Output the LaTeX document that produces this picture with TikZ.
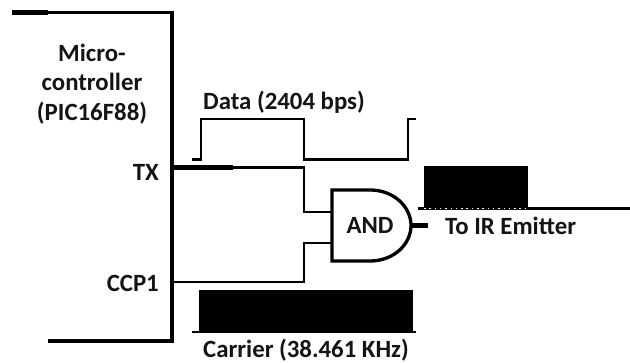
\documentclass[tikz,border=0pt]{standalone}
\usepackage{fontspec}
\setmainfont{Carlito}
\usepackage{xcolor}
\definecolor{labelInk}{HTML}{141414}
\usepackage{tikz}
\usetikzlibrary{positioning}

\begin{document}
\begin{tikzpicture}[x=1pt,y=-1pt,line join=miter,
  every node/.style={font=\fontsize{24.8}{29.5}\selectfont\bfseries,text=labelInk,inner sep=0pt},
  wire/.style={draw=black,line width=2.8pt},
  outline/.style={draw=black,line width=3.3pt},
  heavy/.style={draw=black,line width=4.4pt},
  burst/.style={fill=black,draw=none}]
  \useasboundingbox (0,0) rectangle (630,363);
  % micro-controller outline
  \coordinate (boxTL) at (12,12.5);
  \coordinate (boxTM) at (48,12.5);
  \coordinate (boxTR) at (172,12.5);
  \coordinate (boxBR) at (172,341);
  \coordinate (boxBL) at (48,341);
  \draw[outline] (boxTM) -- (boxTR) -- (boxBR) -- (boxBL);
  \draw[heavy] (boxTL) -- (boxTM);
  \node[align=center] (mcu) at (92,84) {Micro-\\controller\\(PIC16F88)};
  \node[anchor=east] (txlabel) at (159,172) {TX};
  \node[anchor=east] (ccplabel) at (159,283) {CCP1};
  % gate
  \coordinate (gateTL) at (332,190);
  \coordinate (gateBL) at (332,261);
  \coordinate (gateOut) at (411,225.5);
  \draw[outline] (gateTL) -- (370,190) .. controls (394,190) and (411,207) .. (gateOut)
    .. controls (411,244) and (394,261) .. (370,261) -- (gateBL) -- cycle;
  \node (gate) at (370,225) {AND};
  % wires
  \coordinate (tx) at (172,167.5);
  \coordinate (txend) at (233,167.5);
  \coordinate (ccp) at (172,282);
  \coordinate (elbow) at (304,225);
  \coordinate (gateA) at (332,212);
  \coordinate (gateB) at (332,243);
  \coordinate (emit) at (428,225.5);
  \draw[heavy] (tx) -- (txend);
  \draw[wire] (txend) -| (elbow |- gateA) -- (gateA);
  \draw[wire] (ccp) -| (elbow |- gateB) -- (gateB);
  \draw[heavy] (gateOut) -- (emit);
  \node[anchor=west] (emitlabel) at (445,226) {To IR Emitter};
  % data waveform
  \coordinate (dataA) at (192,159.5);
  \coordinate (dataB) at (201,119);
  \coordinate (dataC) at (304,159.5);
  \coordinate (dataD) at (408,119);
  \coordinate (dataE) at (416,119);
  \draw[wire] (dataA) -| (dataB) -| (dataC) -| (dataD) -- (dataE);
  \node[anchor=west] (datalabel) at (203,102) {Data (2404 bps)};
  % carrier burst
  \coordinate (carA) at (192,332);
  \coordinate (carB) at (416,332);
  \draw[wire] (carA) -- (carB);
  \fill[burst] (199,290) rectangle (413,332);
  \node[anchor=west] (carlabel) at (203,350) {Carrier (38.461 KHz)};
  % output burst
  \coordinate (outA) at (418,208.5);
  \coordinate (outB) at (630,208.5);
  \draw[wire] (outA) -- (outB);
  \fill[burst] (424,166) rectangle (528,208);
  \draw[white,line width=1pt,dash pattern=on 1.5pt off 3.8pt] (424,209) -- (526,209);
\end{tikzpicture}
\end{document}
